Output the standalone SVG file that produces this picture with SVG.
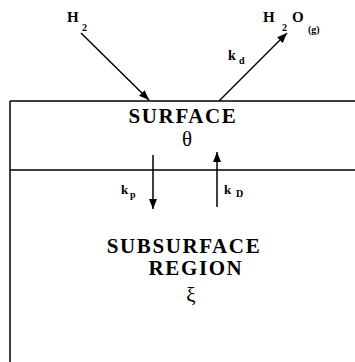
<svg xmlns="http://www.w3.org/2000/svg" width="355" height="362" viewBox="0 0 355 362">
<style>
.ln{stroke:#000;stroke-width:1.5;fill:none}
.t{font-family:"Liberation Serif",serif;font-weight:bold;fill:#000}
.g{font-family:"Liberation Serif",serif;font-weight:normal;font-size:21px;fill:#000}
.big{font-size:21px;letter-spacing:1.6px}
.lab{font-size:15px}
.sub{font-size:10px}
</style>
<defs>
<marker id="ah" viewBox="0 0 10 8" refX="10" refY="4" markerWidth="10" markerHeight="8" markerUnits="userSpaceOnUse" orient="auto">
<path d="M0,0 L10,4 L0,8 Z" fill="#000"/>
</marker>
</defs>
<g id="surface">
<path class="ln" d="M10,101 H355 M10,101 V362"/>
<text class="t big" x="183" y="123" text-anchor="middle">SURFACE</text>
<text class="g" x="187" y="146" text-anchor="middle">θ</text>
</g>
<g id="subsurface">
<path class="ln" d="M10,170 H355"/>
<text class="t big" x="184" y="253" text-anchor="middle">SUBSURFACE</text>
<text class="t big" x="196" y="275" text-anchor="middle">REGION</text>
<text class="g" x="191" y="302" text-anchor="middle">ξ</text>
</g>
<g id="h2">
<text class="t lab" x="67" y="22">H</text>
<text class="t sub" x="82" y="31">2</text>
</g>
<g id="h2o">
<text class="t lab" x="263" y="22">H</text>
<text class="t sub" x="282" y="31">2</text>
<text class="t lab" x="292" y="22">O</text>
<text class="t sub" x="308" y="33">(g)</text>
</g>
<g id="connectors">
<line class="ln" x1="81" y1="33" x2="149" y2="100" marker-end="url(#ah)"/>
<line class="ln" x1="219" y1="101" x2="287" y2="33" marker-end="url(#ah)"/>
<line class="ln" x1="153" y1="155" x2="153" y2="209" marker-end="url(#ah)"/>
<line class="ln" x1="217" y1="207" x2="217" y2="152" marker-end="url(#ah)"/>
</g>
<g id="labels">
<text class="t" x="228" y="60" font-size="14">k</text>
<text class="t sub" x="239" y="64">d</text>
<text class="t" x="121" y="194" font-size="13">k</text>
<text class="t sub" x="130" y="198">p</text>
<text class="t" x="224" y="194" font-size="13">k</text>
<text class="t sub" x="236" y="197">D</text>
</g>
</svg>
